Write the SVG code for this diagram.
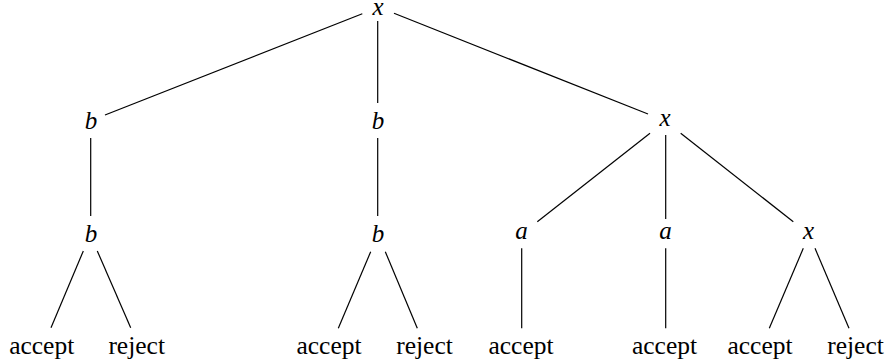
<svg xmlns="http://www.w3.org/2000/svg" width="890" height="364" viewBox="0 0 890 364">
<style>
.m{font-family:"Liberation Serif","Times New Roman","DejaVu Serif",serif;font-style:italic;font-size:25px;fill:#000;text-anchor:middle}
.t{font-family:"Liberation Serif","Times New Roman","DejaVu Serif",serif;font-size:25.5px;fill:#000;text-anchor:middle}
.e{stroke:#000;stroke-width:1.2;fill:none;stroke-linecap:butt}
</style>
<rect width="890" height="364" fill="#fff"/>
<g id="edges" class="e">
<line x1="362.3" y1="13.7" x2="105" y2="115"/>
<line x1="377.7" y1="21" x2="377.7" y2="103"/>
<line x1="394" y1="13.3" x2="648" y2="114"/>
<line x1="90.7" y1="138" x2="90.7" y2="216"/>
<line x1="377.7" y1="138" x2="377.7" y2="216"/>
<line x1="650" y1="133.3" x2="537.3" y2="221.7"/>
<line x1="665.7" y1="135" x2="665.7" y2="219"/>
<line x1="680.7" y1="133.3" x2="793.3" y2="221.7"/>
<line x1="83.3" y1="251" x2="51" y2="327.7"/>
<line x1="97.3" y1="251" x2="130.7" y2="327.7"/>
<line x1="370.7" y1="251.7" x2="338.3" y2="328.3"/>
<line x1="385.3" y1="251.7" x2="417.3" y2="328.3"/>
<line x1="521.7" y1="248.3" x2="521.7" y2="328.3"/>
<line x1="665.7" y1="248.3" x2="665.7" y2="328.3"/>
<line x1="803.3" y1="248.3" x2="769.3" y2="328.3"/>
<line x1="815" y1="248.3" x2="849" y2="328.3"/>
</g>
<g id="root"><text class="m" x="378" y="14.5">x</text></g>
<g id="b1"><text class="m" x="91" y="129">b</text></g>
<g id="b2"><text class="m" x="378" y="129">b</text></g>
<g id="x1"><text class="m" x="665" y="126">x</text></g>
<g id="b1b"><text class="m" x="91" y="242">b</text></g>
<g id="b2b"><text class="m" x="378" y="242">b</text></g>
<g id="a1"><text class="m" x="521.5" y="239">a</text></g>
<g id="a2"><text class="m" x="665.5" y="239">a</text></g>
<g id="x2"><text class="m" x="808.5" y="239">x</text></g>
<g id="l1"><text class="t" x="41.7" y="354">accept</text></g>
<g id="l2"><text class="t" x="136.7" y="354">reject</text></g>
<g id="l3"><text class="t" x="329" y="354">accept</text></g>
<g id="l4"><text class="t" x="424.5" y="354">reject</text></g>
<g id="l5"><text class="t" x="521" y="354">accept</text></g>
<g id="l6"><text class="t" x="664.5" y="354">accept</text></g>
<g id="l7"><text class="t" x="760" y="354">accept</text></g>
<g id="l8"><text class="t" x="855.5" y="354">reject</text></g>
</svg>
